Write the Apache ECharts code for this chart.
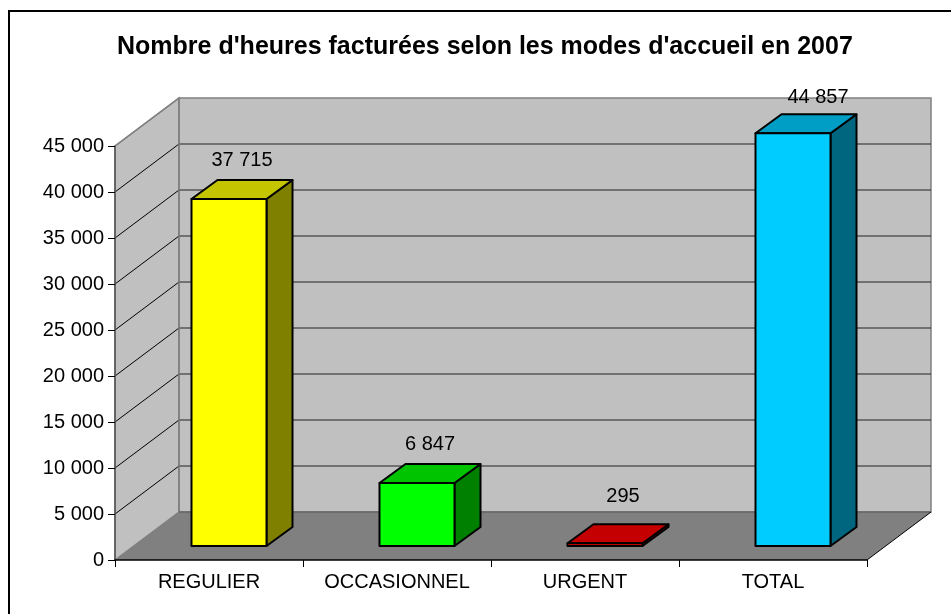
<!DOCTYPE html>
<html><head><meta charset="utf-8">
<style>html,body{margin:0;padding:0;background:#fff}#c{width:951px;height:614px}</style>
<script src="https://cdn.jsdelivr.net/npm/echarts@6/dist/echarts.min.js"></script>
</head><body><div id="c"></div>
<script>
const chartTitle = "Nombre d'heures facturées selon les modes d'accueil en 2007";
const categories = ['REGULIER', 'OCCASIONNEL', 'URGENT', 'TOTAL'];
const hours = [37715, 6847, 295, 44857];
const frontColors = ['#FFFF00', '#00FF00', '#FF0000', '#00CCFF'];
const topColors = ['#C4C400', '#00C400', '#C40000', '#009DC4'];
const sideColors = ['#808000', '#008000', '#800000', '#006680'];
const labelRaise = [20, 20, 28, 17];
const labelShift = [0, 0, 5, 12];
const yTicks = [0, 5000, 10000, 15000, 20000, 25000, 30000, 35000, 40000, 45000];

const WALL_DX = 64, WALL_DY = 48;
const BAR_FRONT_DX = 20, BAR_FRONT_DY = 14;
const BAR_DX = 26, BAR_DY = 19;
const BAR_W = 75;
const fmt = v => String(v).replace(/\B(?=(\d{3})+$)/g, ' ');

const chart = echarts.init(document.getElementById('c'), null, {renderer: 'canvas'});
const poly = (points, fill, stroke, lw) => ({type: 'polygon', shape: {points},
  style: {fill, stroke: stroke || null, lineWidth: lw || 0}});
const line = (x1, y1, x2, y2, stroke, lw) => ({type: 'line', shape: {x1, y1, x2, y2},
  style: {stroke, lineWidth: lw || 1}});

function renderRoom(params, api) {
  const band = api.size([1, 0])[0];
  const [cx0, y0] = api.coord([0, 0]);
  const [, yTop] = api.coord([0, yTicks[yTicks.length - 1]]);
  const xL = cx0 - band / 2, xR = xL + band * categories.length;
  const children = [
    poly([[xL, y0], [xL + WALL_DX, y0 - WALL_DY], [xL + WALL_DX, yTop - WALL_DY], [xL, yTop]], '#C0C0C0', '#808080', 1.5),
    poly([[xL + WALL_DX, y0 - WALL_DY], [xR + WALL_DX, y0 - WALL_DY], [xR + WALL_DX, yTop - WALL_DY], [xL + WALL_DX, yTop - WALL_DY]], '#C0C0C0', '#808080', 1.5),
    poly([[xL, y0], [xR, y0], [xR + WALL_DX, y0 - WALL_DY], [xL + WALL_DX, y0 - WALL_DY]], '#808080', null, 0)
  ];
  yTicks.slice(1, -1).forEach(t => {
    const y = api.coord([0, t])[1];
    children.push(line(xL, y, xL + WALL_DX, y - WALL_DY, '#000', 1));
    children.push(line(xL + WALL_DX, y - WALL_DY, xR + WALL_DX, y - WALL_DY, '#222', 1));
  });
  children.push(line(xL + WALL_DX, y0 - WALL_DY, xL + WALL_DX, yTop - WALL_DY, '#808080', 1.5));
  children.push(line(xL + WALL_DX, y0 - WALL_DY, xR + WALL_DX, y0 - WALL_DY, '#666', 1.5));
  children.push(line(xL, yTop, xL + WALL_DX, yTop - WALL_DY, '#808080', 1.5));
  children.push(line(xR, y0, xR + WALL_DX, y0 - WALL_DY, '#000', 1));
  return {type: 'group', children};
}

function renderBar(params, api) {
  const i = params.dataIndex;
  const [cx, yv] = api.coord([i, api.value(1)]);
  const y0 = api.coord([i, 0])[1];
  const l = cx + BAR_FRONT_DX - BAR_W / 2, r = l + BAR_W;
  const t = yv - BAR_FRONT_DY, b = y0 - BAR_FRONT_DY;
  const s = {stroke: '#000', lineWidth: 2, lineJoin: 'round'};
  const mk = (pts, fill) => ({type: 'polygon', shape: {points: pts}, style: Object.assign({fill}, s)});
  return {type: 'group', children: [
    mk([[r, t], [r + BAR_DX, t - BAR_DY], [r + BAR_DX, b - BAR_DY], [r, b]], sideColors[i]),
    mk([[l, t], [r, t], [r + BAR_DX, t - BAR_DY], [l + BAR_DX, t - BAR_DY]], topColors[i]),
    mk([[l, t], [r, t], [r, b], [l, b]], frontColors[i]),
    {type: 'text', style: {text: fmt(hours[i]), x: (l + r) / 2 + 13 + labelShift[i], y: t - BAR_DY - labelRaise[i],
      align: 'center', verticalAlign: 'middle', fill: '#000',
      font: '20px "Liberation Sans", Arial, sans-serif'}}
  ]};
}

chart.setOption({
  animation: false,
  backgroundColor: '#fff',
  textStyle: {fontFamily: '"Liberation Sans", Arial, sans-serif'},
  title: {text: chartTitle, left: 117, top: 35, padding: 0,
    textStyle: {fontSize: 25, fontWeight: 'bold', color: '#000', fontFamily: '"Liberation Sans", Arial, sans-serif'}},
  graphic: [{type: 'rect', z: -1, silent: true, shape: {x: 9, y: 11, width: 960, height: 630},
    style: {fill: '#fff', stroke: '#000', lineWidth: 2}}],
  grid: {left: 115, top: 146, width: 752, height: 414},
  xAxis: {type: 'category', data: categories, z: 5,
    axisLine: {lineStyle: {color: '#000', width: 1.5}},
    axisTick: {show: true, length: 7, interval: 0, lineStyle: {color: '#000'}},
    axisLabel: {color: '#000', fontSize: 20, margin: 12, interval: 0, hideOverlap: false}},
  yAxis: {type: 'value', min: 0, max: 45000, interval: 5000, z: 5,
    axisLine: {show: true, lineStyle: {color: '#555', width: 1.5}},
    axisTick: {show: true, length: 7, lineStyle: {color: '#000'}},
    splitLine: {show: false},
    axisLabel: {color: '#000', fontSize: 20, margin: 11, formatter: fmt}},
  series: [
    {type: 'custom', z: 1, clip: false, silent: true, renderItem: renderRoom, data: [[0, 0]], encode: {x: 0, y: 1}},
    {type: 'custom', z: 2, clip: false, silent: true, renderItem: renderBar,
      data: hours.map((v, i) => [i, v]), encode: {x: 0, y: 1}}
  ]
});
</script></body></html>
